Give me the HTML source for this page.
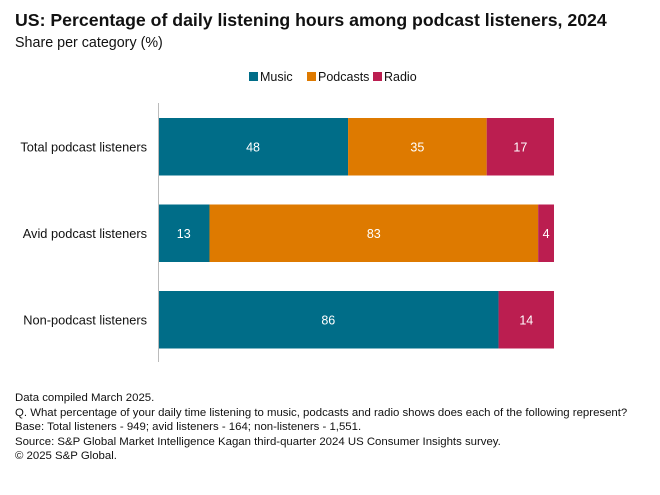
<!DOCTYPE html>
<html><head><meta charset="utf-8"><style>
body{margin:0;width:660px;height:495px;background:#fff;font-family:"Liberation Sans",sans-serif;overflow:hidden;position:relative}
.t{position:absolute;left:15px;top:10px;font-size:17.7px;font-weight:bold;color:#111}
.s{position:absolute;left:15px;top:35px;font-size:14.3px;color:#111}
.f{position:absolute;left:15px;top:391px;font-size:11.4px;line-height:14.5px;color:#111;white-space:nowrap}
</style></head><body>
<div class="t">US: Percentage of daily listening hours among podcast listeners, 2024</div>
<div class="s">Share per category (%)</div>
<svg id="c" width="660" height="495" style="position:absolute;left:0;top:0"></svg>
<div class="f">Data compiled March 2025.<br>Q. What percentage of your daily time listening to music, podcasts and radio shows does each of the following represent?<br>Base: Total listeners - 949; avid listeners - 164; non-listeners - 1,551.<br>Source: S&amp;P Global Market Intelligence Kagan third-quarter 2024 US Consumer Insights survey.<br>© 2025 S&amp;P Global.</div>
<script>
const categories=["Total podcast listeners","Avid podcast listeners","Non-podcast listeners"];
const seriesNames=["Music","Podcasts","Radio"];
const music=[48,13,86];
const podcasts=[35,83,0];
const radio=[17,4,14];
const colors=["#006d88","#de7a00","#bb1e50"];
const svg=document.getElementById('c');const NS="http://www.w3.org/2000/svg";
const x0=158,x1=554;const xs=v=>x0+(x1-x0)*v/100;
const rowTop=[118,204.5,291],bh=57.5;
function el(t,a,txt){const e=document.createElementNS(NS,t);for(const k in a)e.setAttribute(k,a[k]);if(txt!=null)e.textContent=txt;svg.appendChild(e);return e;}
const ser=[music,podcasts,radio];
categories.forEach((c,i)=>{
 const y=rowTop[i];
 const lab=el('text',{x:147,y:y+bh/2+4.5,'text-anchor':'end','font-size':12.8,fill:'#111'},c);
 
 
 let acc=0;
 ser.forEach((s,j)=>{
  const v=s[i];if(!v)return;
  const r=el('rect',{x:xs(acc),y:y,width:xs(acc+v)-xs(acc),height:bh,fill:colors[j]});
  
  
  const tx=el('text',{x:(xs(acc)+xs(acc+v))/2,y:y+bh/2+4.5,'text-anchor':'middle','font-size':12.5,fill:'#fff'},v);
  
  
  acc+=v;
 });
});
const ax=el('line',{x1:158.5,x2:158.5,y1:103,y2:362,stroke:'#bbb','stroke-width':1});


const lx=[249,307,373];
seriesNames.forEach((n,j)=>{
 const r=el('rect',{x:lx[j],y:72,width:9,height:9,fill:colors[j]});
 
 
 const t=el('text',{x:lx[j]+11,y:81,'font-size':12.5,fill:'#111'},n);
 
 
});
</script>
</body></html>
